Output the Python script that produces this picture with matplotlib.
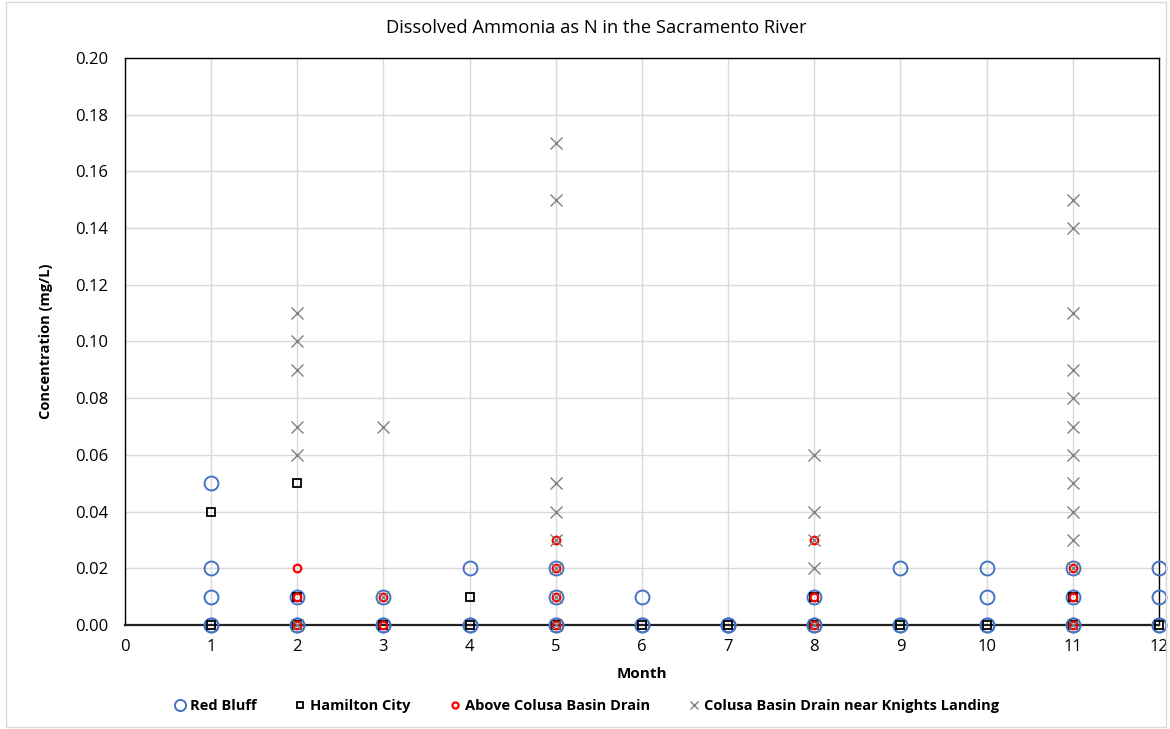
import matplotlib
matplotlib.use("Agg")
import matplotlib.pyplot as plt
from matplotlib.patches import Rectangle

plt.rcParams['font.family'] = ['Open Sans', 'DejaVu Sans']

# Red Bluff
rb_month = [1, 1, 1, 1, 1, 2, 2, 2, 3, 3, 3, 4, 4, 4, 5, 5, 5, 5, 6, 6, 6, 7, 7, 7,
            8, 8, 8, 9, 9, 9, 10, 10, 10, 10, 11, 11, 11, 11, 12, 12, 12, 12]
rb_conc = [0.05, 0.02, 0.01, 0.00, 0.00, 0.01, 0.00, 0.00, 0.01, 0.00, 0.00, 0.02, 0.00, 0.00,
           0.02, 0.01, 0.00, 0.00, 0.01, 0.00, 0.00, 0.00, 0.00, 0.00,
           0.01, 0.00, 0.00, 0.02, 0.00, 0.00, 0.02, 0.01, 0.00, 0.00,
           0.02, 0.01, 0.00, 0.00, 0.02, 0.01, 0.00, 0.00]

# Hamilton City
hc_month = [1, 1, 2, 2, 2, 3, 4, 4, 5, 6, 7, 8, 8, 9, 10, 11, 11, 12]
hc_conc = [0.04, 0.00, 0.05, 0.01, 0.00, 0.00, 0.01, 0.00, 0.00, 0.00, 0.00,
           0.01, 0.00, 0.00, 0.00, 0.01, 0.00, 0.00]

# Above Colusa Basin Drain
ac_month = [2, 2, 2, 3, 3, 5, 5, 5, 5, 8, 8, 8, 11, 11, 11]
ac_conc = [0.02, 0.01, 0.00, 0.01, 0.00, 0.03, 0.02, 0.01, 0.00, 0.03, 0.01, 0.00,
           0.02, 0.01, 0.00]

# Colusa Basin Drain near Knights Landing
kl_month = [2, 2, 2, 2, 2, 2, 3, 3,
            5, 5, 5, 5, 5, 5, 5, 5,
            8, 8, 8, 8, 8,
            11, 11, 11, 11, 11, 11, 11, 11, 11, 11, 11, 11]
kl_conc = [0.11, 0.10, 0.09, 0.07, 0.06, 0.00, 0.07, 0.01,
           0.17, 0.15, 0.05, 0.04, 0.03, 0.02, 0.01, 0.00,
           0.06, 0.04, 0.03, 0.02, 0.00,
           0.15, 0.14, 0.11, 0.09, 0.08, 0.07, 0.06, 0.05, 0.04, 0.03, 0.02, 0.00]

x_ticks = list(range(0, 13))
y_ticks = [0.00, 0.02, 0.04, 0.06, 0.08, 0.10, 0.12, 0.14, 0.16, 0.18, 0.20]

fig = plt.figure(figsize=(11.7, 7.29), dpi=100)
ax = fig.add_axes([0.1068, 0.1427, 0.8838, 0.7778])

ax.plot(rb_month, rb_conc, linestyle='none', marker='o', markersize=10,
        markerfacecolor='none', markeredgecolor='#4472C4', markeredgewidth=1.4,
        label='Red Bluff', zorder=3, clip_on=False)
ax.plot(hc_month, hc_conc, linestyle='none', marker='s', markersize=5.5,
        markerfacecolor='none', markeredgecolor='black', markeredgewidth=1.3,
        label='Hamilton City', zorder=4, clip_on=False)
ax.plot(ac_month, ac_conc, linestyle='none', marker='o', markersize=5.5,
        markerfacecolor='none', markeredgecolor='#FF0000', markeredgewidth=1.6,
        label='Above Colusa Basin Drain', zorder=5, clip_on=False)
ax.plot(kl_month, kl_conc, linestyle='none', marker='x', markersize=8,
        markeredgecolor='#808080', markeredgewidth=1.0,
        label='Colusa Basin Drain near Knights Landing', zorder=6, clip_on=False)

ax.set_xlim(0, 12)
ax.set_ylim(0, 0.20)
ax.set_xticks(x_ticks)
ax.set_yticks(y_ticks)
ax.set_yticklabels([f"{v:.2f}" for v in y_ticks])
ax.tick_params(axis='both', length=0, labelsize=12)
ax.tick_params(axis='x', pad=10)
ax.tick_params(axis='y', pad=12)
ax.grid(True, color='#D9D9D9', linewidth=1.0, zorder=0)
ax.set_axisbelow(True)
for s in ax.spines.values():
    s.set_color('black')
    s.set_linewidth(1.0)
ax.spines['bottom'].set_linewidth(1.6)
ax.spines['bottom'].set_color('#222222')

fig.text(596 / 1170, 1 - 28 / 729, 'Dissolved Ammonia as N in the Sacramento River',
         fontsize=13.2, ha='center', va='center')
ax.set_xlabel('Month', fontsize=11, fontweight='bold', labelpad=9)
ax.set_ylabel('Concentration (mg/L)', fontsize=10.5, fontweight='bold', labelpad=16)

leg = fig.legend(loc='center', bbox_to_anchor=(0.5, 0.031), ncol=4, frameon=False,
                 prop={'weight': 'bold', 'size': 10.5}, handletextpad=0.1,
                 columnspacing=2.4, handlelength=1.2, markerscale=0.8)

fig.patches.append(Rectangle((0.005, 0.003), 0.992, 0.994, transform=fig.transFigure,
                             fill=False, edgecolor='#D9D9D9', linewidth=1.0))

fig.savefig('out.png', dpi=100)
